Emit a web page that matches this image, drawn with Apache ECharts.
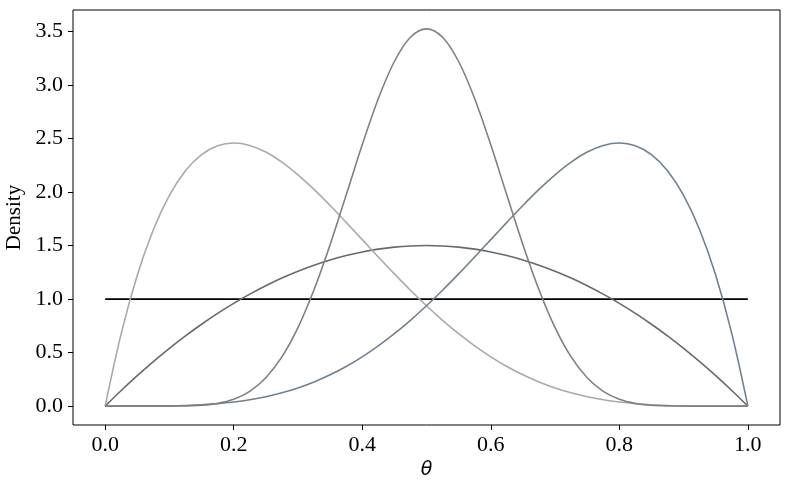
<!DOCTYPE html>
<html><head><meta charset="utf-8">
<script src="https://cdn.jsdelivr.net/npm/echarts@6/dist/echarts.min.js"></script>
<style>html,body{margin:0;padding:0;background:#fff}#c{width:790px;height:490px}</style>
</head><body><div id="c"></div>
<script>
const thetaValues = [0,0.025,0.05,0.075,0.1,0.125,0.15,0.175,0.2,0.225,0.25,0.275,0.3,0.325,0.35,0.375,0.4,0.425,0.45,0.475,0.5,0.525,0.55,0.575,0.6,0.625,0.65,0.675,0.7,0.725,0.75,0.775,0.8,0.825,0.85,0.875,0.9,0.925,0.95,0.975,1];
const uniformX = [0, 1];
const uniformY = [1, 1];
const beta22 = [0,0.1463,0.285,0.4163,0.54,0.6563,0.765,0.8663,0.96,1.0463,1.125,1.1963,1.26,1.3163,1.365,1.4063,1.44,1.4663,1.485,1.4963,1.5,1.4963,1.485,1.4663,1.44,1.4063,1.365,1.3163,1.26,1.1963,1.125,1.0463,0.96,0.8663,0.765,0.6563,0.54,0.4163,0.285,0.1463,0];
const beta25 = [0,0.6778,1.2218,1.6472,1.9683,2.1982,2.349,2.4321,2.4576,2.4351,2.373,2.2793,2.1609,2.024,1.8743,1.7166,1.5552,1.3937,1.2353,1.0826,0.9375,0.8018,0.6766,0.5628,0.4608,0.3708,0.2926,0.2259,0.1701,0.1244,0.0879,0.0596,0.0384,0.0232,0.0129,0.0064,0.0027,0.0009,0.0002,0,0];
const beta52 = [0,0,0.0002,0.0009,0.0027,0.0064,0.0129,0.0232,0.0384,0.0596,0.0879,0.1244,0.1701,0.2259,0.2926,0.3708,0.4608,0.5628,0.6766,0.8018,0.9375,1.0826,1.2353,1.3937,1.5552,1.7166,1.8743,2.024,2.1609,2.2793,2.373,2.4351,2.4576,2.4321,2.349,2.1982,1.9683,1.6472,1.2218,0.6778,0];
const beta1010 = [0,0,0,0,0.0004,0.0021,0.0082,0.0252,0.0635,0.1377,0.2646,0.4598,0.7337,1.087,1.508,1.9714,2.4405,2.8713,3.2191,3.4455,3.5239,3.4455,3.2191,2.8713,2.4405,1.9714,1.508,1.087,0.7337,0.4598,0.2646,0.1377,0.0635,0.0252,0.0082,0.0021,0.0004,0,0,0,0];
const xTicks = [0, 0.2, 0.4, 0.6, 0.8, 1.0];
const yTicks = [0, 0.5, 1.0, 1.5, 2.0, 2.5, 3.0, 3.5];

function pairs(xs, ys){ return xs.map((x,i)=>[x, ys[i]]); }
const font = 'Liberation Serif';
const chart = echarts.init(document.getElementById('c'), null, {renderer:'canvas'});
function mk(name, ys, color, xs, w){
  return {name, type:'line', data: pairs(xs||thetaValues, ys), showSymbol:false, smooth:0.35,
    lineStyle:{color, width:w||1.6}, itemStyle:{color}, animation:false, z:2};
}
chart.setOption({
  animation:false,
  grid:{left:73, right:10, top:10, bottom:65, containLabel:false, outerBoundsMode:'none',
    show:true, borderColor:'#000', borderWidth:1, backgroundColor:'transparent'},
  xAxis:{type:'value', min:-0.05, max:1.05,
    name:'θ', nameLocation:'middle', nameGap:34,
    nameTextStyle:{fontFamily:'DejaVu Sans', fontStyle:'italic', fontSize:19, color:'#000'},
    axisLine:{show:false, onZero:false}, splitLine:{show:false},
    axisTick:{show:true, length:5, inside:false, customValues:xTicks, lineStyle:{color:'#000', width:1}},
    axisLabel:{customValues:xTicks, margin:9, fontFamily:font, fontSize:22, color:'#000', formatter:v=>v.toFixed(1)}},
  yAxis:{type:'value', min:-0.1762, max:3.7001,
    name:'Density', nameLocation:'middle', nameGap:44,
    nameTextStyle:{fontFamily:font, fontSize:21, color:'#000'},
    axisLine:{show:false, onZero:false}, splitLine:{show:false},
    axisTick:{show:true, length:5, inside:false, customValues:yTicks, lineStyle:{color:'#000', width:1}},
    axisLabel:{customValues:yTicks, margin:10, fontFamily:font, fontSize:22, color:'#000', formatter:v=>v.toFixed(1)}},
  series:[
    mk('Beta(1,1)', uniformY, '#000000', uniformX, 1.8),
    mk('Beta(2,2)', beta22, '#696969'),
    mk('Beta(2,5)', beta25, '#a9a9a9'),
    mk('Beta(5,2)', beta52, '#708090'),
    mk('Beta(10,10)', beta1010, '#808080')
  ]
});
</script></body></html>
